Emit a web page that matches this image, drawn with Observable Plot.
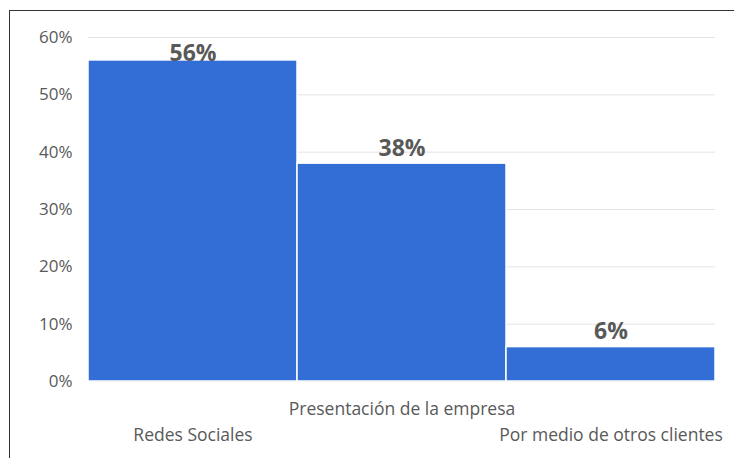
<!DOCTYPE html>
<html>
<head>
<meta charset="utf-8">
<script src="https://cdn.jsdelivr.net/npm/d3@7"></script>
<script src="https://cdn.jsdelivr.net/npm/@observablehq/plot@0.6"></script>
<style>
  html, body { margin: 0; padding: 0; background: #fff; }
  #wrap { position: relative; width: 734px; height: 458px; overflow: hidden; }
  #frame { position: absolute; left: 9px; top: 10px; width: 740px; height: 460px; border: 1.5px solid #333; box-sizing: border-box; pointer-events: none; }
</style>
</head>
<body>
<div id="wrap"><div id="frame"></div></div>
<script>
const categories = ["Redes Sociales", "Presentación de la empresa", "Por medio de otros clientes"];
const values = [56, 38, 6];
const yTicks = [0, 10, 20, 30, 40, 50, 60];

const data = categories.map((c, i) => ({category: c, value: values[i]}));
const font = "'Open Sans', 'Noto Sans', sans-serif";
const textColor = "#595959";

const chart = Plot.plot({
  width: 734,
  height: 458,
  marginLeft: 88,
  marginRight: 19,
  marginTop: 37,
  marginBottom: 77,
  style: {fontFamily: font, background: "transparent"},
  x: {domain: categories, padding: 0, label: null},
  y: {domain: [0, 60], label: null},
  marks: [
    Plot.gridY(yTicks, {stroke: "#d9d9d9", strokeOpacity: 0.7, strokeWidth: 1}),
    Plot.barY(data, {x: "category", y: "value", fill: "#336ED6", stroke: "#ffffff", strokeWidth: 1.5}),
    Plot.text(data, {
      x: "category",
      y: d => Math.min(d.value + 2.7, 57.2),
      text: d => d.value + "%",
      fontSize: 23,
      fontWeight: "bold",
      fill: textColor
    }),
    Plot.axisY(yTicks, {
      tickSize: 0, tickPadding: 16, fontSize: 17, fill: textColor,
      tickFormat: d => d + "%"
    }),
    Plot.axisX([categories[1]], {
      tickSize: 0, tickPadding: 21, fontSize: 17.5, fill: textColor, label: null
    }),
    Plot.axisX([categories[0], categories[2]], {
      tickSize: 0, tickPadding: 47, fontSize: 17.5, fill: textColor, label: null
    })
  ]
});
document.getElementById("wrap").prepend(chart);
</script>
</body>
</html>
